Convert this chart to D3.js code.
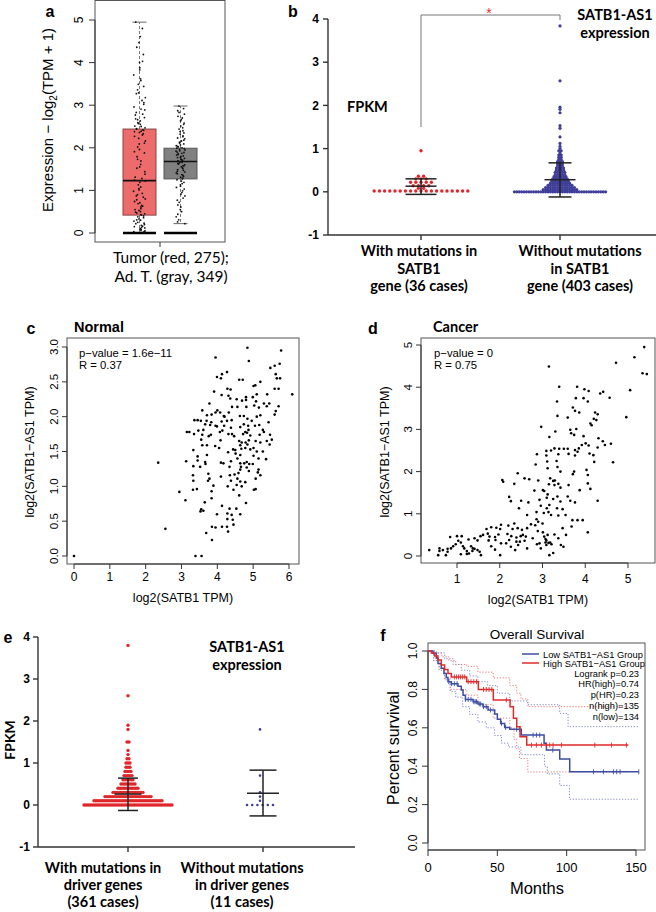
<html>
<head>
<script src="https://d3js.org/d3.v7.min.js"></script>
<style>
  body { margin: 0; background: #fff; }
</style>
</head>
<body>
<svg id="fig" width="656" height="912"></svg>
<script>
// ---------- data: panel a (box plot) ----------
const boxGroups = ["Tumor", "Ad. T."];
const boxQ1 = [0.42, 1.27];
const boxMed = [1.23, 1.68];
const boxQ3 = [2.44, 1.99];
const whiskLo = [0, 0.22];
const whiskHi = [4.95, 2.98];
const tumorVals = [4.95, 4.80, 4.61, 4.47, 4.36, 4.19, 4.03, 4.00, 3.88, 3.83, 3.71, 3.62, 3.58, 3.49, 3.44, 3.36, 3.29, 3.27, 3.18, 3.11,
  3.06, 3.02, 2.96, 2.91, 2.89, 2.83, 2.79, 2.77, 2.71, 2.68, 2.66, 2.63, 2.59, 2.57, 2.55, 2.51, 2.50, 2.47, 2.45, 2.44,
  2.42, 2.41, 2.39, 2.38, 2.36, 2.33, 2.30, 2.27, 2.22, 2.16, 2.11, 2.09, 2.02, 1.96, 1.91, 1.88, 1.79, 1.73, 1.69, 1.61,
  1.55, 1.52, 1.44, 1.38, 1.31, 1.28, 1.24, 1.22, 1.19, 1.13, 1.08, 1.04, 1.01, 0.98, 0.93, 0.90, 0.87, 0.84, 0.80, 0.78,
  0.74, 0.71, 0.69, 0.65, 0.63, 0.61, 0.57, 0.55, 0.53, 0.50, 0.49, 0.47, 0.45, 0.43, 0.42, 0.40, 0.38, 0.36, 0.33, 0.31,
  0.30, 0.28, 0.25, 0.23, 0.22, 0.20, 0.18, 0.16, 0.15, 0.13, 0.12, 0.10, 0.09, 0.08, 0.06, 0.05, 0.04, 0.03, 0.02, 0.01];
const adjVals = [2.98, 2.92, 2.87, 2.83, 2.79, 2.74, 2.70, 2.66, 2.63, 2.58, 2.55, 2.51, 2.47, 2.44, 2.40, 2.38, 2.35, 2.32, 2.28, 2.26,
  2.23, 2.21, 2.18, 2.16, 2.13, 2.11, 2.09, 2.07, 2.05, 2.03, 2.02, 2.00, 1.99, 1.98, 1.96, 1.95, 1.93, 1.92, 1.90, 1.89,
  1.87, 1.86, 1.84, 1.83, 1.81, 1.80, 1.78, 1.77, 1.75, 1.74, 1.72, 1.71, 1.69, 1.68, 1.66, 1.65, 1.63, 1.62, 1.60, 1.58,
  1.57, 1.55, 1.53, 1.51, 1.49, 1.47, 1.45, 1.43, 1.41, 1.39, 1.37, 1.35, 1.33, 1.31, 1.29, 1.27, 1.25, 1.22, 1.19, 1.16,
  1.13, 1.10, 1.07, 1.03, 0.99, 0.95, 0.91, 0.87, 0.82, 0.77, 0.72, 0.66, 0.61, 0.55, 0.50, 0.44, 0.38, 0.31, 0.26, 0.22];

// ---------- data: panel b (dot plot, SATB1 mutation) ----------
const bGroups = ["with", "without"];
const bRedLevels = [0.02, 0.08, 0.14, 0.22, 0.30, 0.36, 0.95];
const bRedCounts = [19, 2, 4, 5, 3, 2, 1];
const bBlueLevels = [0, 0.05, 0.10, 0.15, 0.20, 0.25, 0.30, 0.35, 0.40, 0.45, 0.50, 0.55, 0.60, 0.65, 0.70, 0.75, 0.80, 0.85, 0.90, 0.95,
  1.00, 1.05, 1.12, 1.27, 1.47, 1.53, 1.83, 1.91, 1.96, 2.57, 3.84];
const bBlueCounts = [39, 15, 13, 11, 9, 8, 7, 6, 5, 5, 4, 4, 3, 3, 3, 2, 2, 2, 1, 2, 1, 1, 1, 1, 1, 1, 1, 1, 1, 1, 1];
const bMean = [0.13, 0.28];
const bSdLo = [-0.06, -0.12];
const bSdHi = [0.30, 0.67];

// ---------- data: panel c (Normal scatter) ----------
const normalPts = [[0,0],[2.35,1.34],[2.55,0.39],[4.84,2.99],[5.78,2.95],[3.95,2.85],[4.88,2.80],[5.74,2.76],[5.60,2.73],[5.48,2.70],
  [4.27,2.64],[4.13,2.61],[3.99,2.57],[4.10,2.55],[4.61,2.53],[4.71,2.53],[5.63,2.61],[5.66,2.55],[5.75,2.55],[5.06,2.45],
  [5.01,2.44],[5.20,2.50],[5.71,2.40],[5.60,2.40],[4.28,2.40],[4.37,2.39],[3.91,2.36],[6.09,2.32],[5.39,2.32],[5.10,2.32],
  [4.12,2.31],[4.31,2.30],[4.36,2.26],[4.80,2.28],[4.99,2.28],[4.54,2.25],[4.80,2.24],[4.69,2.23],[5.08,2.22],[5.30,2.19],
  [5.45,2.19],[3.78,2.19],[5.71,2.15],[5.38,2.15],[4.41,2.14],[4.56,2.14],[4.81,2.14],[5.03,2.16],[5.16,2.13],[3.58,2.09],
  [4.00,2.09],[3.95,2.06],[4.08,2.06],[4.32,2.06],[3.84,2.03],[3.71,2.02],[4.18,2.01],[4.20,2.00],[4.63,2.01],[4.74,2.01],
  [5.10,2.00],[5.20,2.02],[5.60,2.03],[5.63,2.08],[3.36,1.95],[3.45,1.95],[3.54,1.94],[3.70,1.94],[3.83,1.92],[4.12,1.93],
  [4.27,1.94],[4.40,1.95],[4.84,1.97],[4.96,1.94],[5.43,1.92],[3.66,1.89],[3.80,1.88],[3.95,1.87],[3.99,1.86],[4.19,1.87],
  [4.38,1.84],[4.64,1.85],[4.74,1.89],[4.86,1.87],[5.05,1.87],[5.17,1.88],[3.15,1.78],[3.22,1.78],[3.47,1.80],[3.61,1.81],
  [4.07,1.78],[4.14,1.80],[4.31,1.75],[4.41,1.75],[4.78,1.78],[4.87,1.81],[4.83,1.77],[5.27,1.81],[5.30,1.78],[3.35,1.75],
  [3.58,1.74],[3.82,1.74],[3.76,1.72],[4.47,1.72],[4.72,1.75],[4.92,1.73],[5.18,1.74],[5.47,1.74],[3.55,1.67],[4.09,1.66],
  [4.61,1.65],[4.68,1.63],[4.79,1.63],[4.88,1.66],[5.07,1.65],[5.20,1.63],[5.38,1.65],[5.52,1.67],[3.58,1.59],[3.71,1.59],
  [3.94,1.58],[4.64,1.59],[4.84,1.60],[5.01,1.55],[5.46,1.60],[3.33,1.52],[4.05,1.55],[4.44,1.53],[4.30,1.49],[4.50,1.52],
  [4.67,1.54],[4.78,1.55],[4.92,1.53],[5.10,1.50],[5.27,1.50],[3.45,1.43],[3.71,1.45],[4.51,1.47],[4.64,1.45],[5.01,1.44],
  [4.56,1.40],[4.38,1.36],[4.82,1.35],[5.15,1.40],[5.36,1.39],[3.13,1.36],[3.45,1.37],[3.66,1.35],[4.10,1.34],[4.17,1.33],
  [4.64,1.33],[4.75,1.33],[4.89,1.32],[4.99,1.32],[3.33,1.29],[3.52,1.28],[3.67,1.32],[4.34,1.28],[4.66,1.28],[4.82,1.27],
  [4.64,1.24],[4.88,1.22],[5.15,1.24],[3.32,1.16],[3.75,1.18],[4.10,1.14],[4.35,1.16],[4.48,1.17],[4.59,1.19],[5.13,1.20],
  [5.20,1.16],[5.07,1.11],[3.33,1.08],[3.74,1.08],[3.78,1.11],[4.38,1.08],[4.56,1.11],[4.64,1.07],[4.78,1.06],[4.54,1.02],
  [3.89,1.01],[4.29,1.00],[4.68,1.00],[3.32,0.95],[3.43,0.96],[4.45,0.95],[5.02,0.95],[5.07,0.96],[2.94,0.92],[3.84,0.93],
  [4.61,0.87],[3.11,0.80],[3.65,0.77],[3.84,0.83],[4.80,0.76],[4.13,0.72],[4.34,0.68],[4.53,0.68],[3.55,0.67],[3.53,0.64],
  [3.61,0.65],[3.99,0.60],[4.28,0.61],[4.40,0.59],[4.64,0.60],[4.28,0.53],[4.43,0.52],[3.85,0.42],[3.95,0.41],[4.13,0.42],
  [4.27,0.42],[4.45,0.45],[4.30,0.35],[3.69,0.33],[3.85,0.23],[3.39,0.00],[3.56,0.00]];

// ---------- data: panel d (Cancer scatter) ----------
const cancerPts = [[5.38,4.95],[5.15,4.71],[4.72,4.58],[3.15,4.49],[5.34,4.33],[5.44,4.31],[5.05,3.93],[3.39,4.01],[3.81,4.01],[3.98,3.95],
  [4.08,3.91],[4.42,3.89],[4.35,3.85],[4.57,3.75],[3.78,3.74],[3.96,3.74],[3.34,3.66],[4.06,3.66],[3.71,3.52],[3.76,3.44],
  [3.86,3.40],[4.23,3.40],[4.29,3.36],[4.96,3.29],[3.35,3.32],[3.59,3.28],[4.20,3.25],[4.26,3.22],[4.15,3.10],[4.12,3.14],
  [2.97,3.06],[3.65,2.99],[3.79,3.01],[3.30,2.95],[3.67,2.91],[3.74,2.87],[3.16,2.82],[3.96,2.84],[4.31,2.79],[4.41,2.72],
  [4.60,2.66],[4.01,2.67],[3.92,2.63],[4.08,2.62],[4.29,2.57],[4.46,2.63],[3.28,2.55],[3.39,2.54],[3.50,2.54],[3.59,2.54],
  [3.85,2.55],[3.76,2.51],[3.09,2.49],[3.20,2.50],[2.87,2.41],[3.37,2.41],[3.61,2.42],[4.10,2.43],[3.09,2.38],[3.76,2.38],
  [3.82,2.47],[4.19,2.39],[4.21,2.23],[4.65,2.22],[3.11,2.24],[3.33,2.25],[2.84,2.17],[3.35,2.11],[3.12,2.08],[3.42,2.00],
  [3.74,2.00],[4.03,2.04],[3.71,1.94],[4.06,1.92],[2.42,1.96],[2.06,1.80],[2.08,1.76],[2.58,1.84],[2.69,1.82],[2.90,1.79],
  [2.34,1.71],[3.18,1.84],[3.25,1.78],[3.29,1.79],[3.15,1.70],[3.28,1.68],[3.37,1.71],[3.61,1.68],[4.06,1.72],[4.12,1.59],
  [2.81,1.55],[3.01,1.56],[3.04,1.54],[3.42,1.62],[3.87,1.56],[2.22,1.40],[3.12,1.46],[3.35,1.41],[3.59,1.41],[2.93,1.33],
  [3.10,1.38],[3.25,1.35],[3.42,1.29],[3.65,1.31],[3.76,1.27],[2.26,1.30],[2.50,1.31],[2.67,1.27],[4.29,1.31],[3.16,1.21],
  [2.96,1.19],[2.45,1.13],[3.10,1.13],[3.34,1.13],[3.47,1.11],[2.86,1.04],[3.03,1.02],[3.14,1.04],[3.20,0.97],[3.37,0.96],
  [3.54,0.97],[2.64,0.97],[3.70,0.85],[3.82,0.85],[3.94,0.85],[2.86,0.87],[2.90,0.81],[2.83,0.73],[3.00,0.77],[2.73,0.75],
  [2.34,0.77],[2.20,0.72],[2.03,0.74],[1.92,0.67],[1.80,0.68],[1.69,0.64],[2.01,0.64],[2.30,0.64],[2.42,0.66],[2.52,0.62],
  [2.64,0.66],[1.72,0.53],[1.61,0.50],[1.76,0.46],[1.97,0.51],[2.18,0.52],[2.27,0.47],[2.39,0.44],[2.49,0.47],[2.54,0.50],
  [2.61,0.46],[2.47,0.34],[2.22,0.38],[2.39,0.34],[2.58,0.36],[1.41,0.42],[1.55,0.47],[1.89,0.45],[1.27,0.39],[1.48,0.37],
  [1.74,0.37],[1.90,0.38],[2.03,0.30],[2.15,0.30],[2.26,0.22],[2.43,0.26],[2.77,0.42],[2.93,0.30],[3.04,0.46],[3.07,0.40],
  [3.09,0.37],[3.07,0.32],[3.14,0.31],[3.09,0.26],[3.18,0.32],[3.21,0.28],[3.37,0.42],[3.43,0.26],[3.49,0.22],[3.55,0.50],
  [4.06,0.56],[3.47,0.66],[3.68,0.70],[2.89,0.59],[3.01,0.56],[3.12,0.50],[3.28,0.51],[1.00,0.47],[1.11,0.47],[0.84,0.45],
  [1.03,0.36],[1.09,0.32],[0.97,0.28],[0.91,0.23],[0.86,0.18],[0.78,0.17],[0.78,0.10],[0.59,0.18],[0.59,0.12],[0.67,0.14],
  [0.56,0.02],[0.35,0.14],[1.14,0.23],[1.17,0.18],[1.23,0.12],[1.28,0.06],[1.36,0.12],[1.41,0.17],[1.48,0.14],[1.53,0.10],
  [1.56,0.02],[1.33,0.23],[1.37,0.18],[1.80,0.23],[1.89,0.15],[2.01,0.02],[2.36,0.14],[2.64,0.18],[2.87,0.28],[2.96,0.18],
  [3.16,0.02],[3.25,0.07],[1.09,0.04],[1.23,0.05],[0.74,0.02]];

// ---------- data: panel e (dot plot, driver genes) ----------
const eGroups = ["with", "without"];
const eRedLevels = [0, 0.1, 0.2, 0.3, 0.4, 0.5, 0.6, 0.7, 0.8, 0.9, 1.0, 1.1, 1.2, 1.3, 1.5, 1.8, 1.9, 2.6, 3.8];
const eRedCounts = [45, 35, 24, 16, 11, 8, 6, 5, 4, 3, 3, 2, 1, 1, 2, 1, 1, 1, 1];
const eBlueLevels = [0, 0.1, 0.2, 0.3, 0.7, 1.8];
const eBlueCounts = [6, 1, 1, 1, 1, 1];
const eMean = [0.26, 0.28];
const eSdLo = [-0.13, -0.26];
const eSdHi = [0.64, 0.83];

// ---------- data: panel f (Kaplan-Meier) ----------
const lowTimes = [0, 3.6, 6.0, 7.2, 9.6, 11.5, 13.2, 14.4, 16.8, 21.6, 24.0, 25.3, 27.0, 32.5, 36.0, 39.7, 43.3, 48.1, 50.0, 52.4, 55.3, 59.0, 67.3, 83.7, 85.4, 95.0, 102.2, 152];
const lowSurv = [1.0, 0.988, 0.962, 0.935, 0.91, 0.883, 0.862, 0.84, 0.83, 0.817, 0.797, 0.77, 0.748, 0.736, 0.724, 0.71, 0.693, 0.672, 0.644, 0.623, 0.602, 0.592, 0.562, 0.519, 0.484, 0.437, 0.371, 0.371];
const highTimes = [0, 2.4, 4.8, 7.2, 9.6, 12.0, 14.4, 16.8, 27.9, 36.3, 47.1, 59.2, 61.6, 64.0, 66.4, 71.2, 144.5];
const highSurv = [1.0, 0.99, 0.974, 0.953, 0.927, 0.904, 0.883, 0.865, 0.84, 0.80, 0.745, 0.71, 0.65, 0.606, 0.554, 0.51, 0.51];
const lowCensor = [15, 17, 19, 21, 27, 29, 31, 33, 34, 35, 37, 38, 40, 42, 45, 53, 56, 64, 66, 75.8, 78.2, 80.6, 90, 119.3, 126.5, 133.7, 136.1, 138.5, 152];
const highCensor = [19, 20.5, 22, 23.5, 25, 26.5, 29, 31, 33, 35, 40, 42, 44, 46, 56.5, 74.6, 78.2, 81.8, 85.4, 87.8, 90.2, 96.2, 120.3, 132.3, 143.1];
const highUpT = [0, 5, 10, 15, 20, 28, 36, 47, 59, 64, 67, 72, 144.5];
const highUpS = [1.0, 0.99, 0.97, 0.95, 0.93, 0.92, 0.89, 0.86, 0.82, 0.78, 0.75, 0.71, 0.71];
const highLoT = [0, 4, 8, 12, 16, 28, 36, 47, 59, 62, 64, 66, 72, 144.5];
const highLoS = [1.0, 0.95, 0.91, 0.86, 0.80, 0.77, 0.72, 0.65, 0.60, 0.54, 0.49, 0.44, 0.37, 0.37];
const lowUpT = [0, 6, 12, 18, 24, 30, 36, 43, 50, 59, 72, 95, 101, 152];
const lowUpS = [1.0, 0.99, 0.96, 0.93, 0.90, 0.87, 0.84, 0.82, 0.78, 0.74, 0.72, 0.675, 0.606, 0.606];
const lowLoT = [0, 4, 8, 12, 16, 20, 25, 30, 36, 42, 48, 53, 58, 67, 84, 86, 95, 102, 152];
const lowLoS = [1.0, 0.95, 0.90, 0.85, 0.79, 0.76, 0.71, 0.67, 0.63, 0.60, 0.56, 0.52, 0.50, 0.46, 0.40, 0.36, 0.30, 0.228, 0.228];
const kmStats = ["Logrank p=0.23", "HR(high)=0.74", "p(HR)=0.23", "n(high)=135", "n(low)=134"];

// ---------- helpers ----------
const svg = d3.select("#fig");
const SANS = "'Liberation Sans', Arial, sans-serif";
const CAL = "Lato, 'Open Sans', sans-serif";

function label(x, y, s, size, o = {}) {
  const t = svg.append("text")
    .attr("x", x).attr("y", y)
    .attr("font-family", o.family || SANS)
    .attr("font-size", size)
    .attr("font-weight", o.bold ? "bold" : "normal")
    .attr("text-anchor", o.anchor || "start")
    .attr("fill", o.fill || "#000")
    .text(s);
  if (o.rotate) t.attr("transform", `rotate(-90,${x},${y})`).attr("dy", "0.35em");
  return t;
}

// R-style left ticks with rotated labels
function rLeft(scale, vals, x0, len, labX, size, fmt) {
  const g = svg.append("g");
  g.append("line").attr("x1", x0).attr("x2", x0)
    .attr("y1", scale(vals[0])).attr("y2", scale(vals[vals.length - 1])).attr("stroke", "#333");
  g.selectAll("line.t").data(vals).join("line").attr("class", "t")
    .attr("x1", x0 - len).attr("x2", x0).attr("y1", d => scale(d)).attr("y2", d => scale(d)).attr("stroke", "#333");
  g.selectAll("text").data(vals).join("text")
    .attr("transform", d => `translate(${labX},${scale(d)}) rotate(-90)`)
    .attr("dy", "0.35em").attr("text-anchor", "middle")
    .attr("font-family", SANS).attr("font-size", size).text(fmt);
}

function rBottom(scale, vals, y0, len, labY, size, fmt) {
  const g = svg.append("g");
  g.append("line").attr("y1", y0).attr("y2", y0)
    .attr("x1", scale(vals[0])).attr("x2", scale(vals[vals.length - 1])).attr("stroke", "#333");
  g.selectAll("line.t").data(vals).join("line").attr("class", "t")
    .attr("y1", y0).attr("y2", y0 + len).attr("x1", d => scale(d)).attr("x2", d => scale(d)).attr("stroke", "#333");
  g.selectAll("text").data(vals).join("text")
    .attr("x", d => scale(d)).attr("y", labY).attr("text-anchor", "middle")
    .attr("font-family", SANS).attr("font-size", size).text(fmt);
}

function frame(x0, y0, x1, y1) {
  svg.append("rect").attr("x", x0).attr("y", y0).attr("width", x1 - x0).attr("height", y1 - y0)
    .attr("fill", "none").attr("stroke", "#555");
}

// rows of dots, centred on cx
function swarm(levels, counts, cx, step) {
  const pts = [];
  levels.forEach((v, i) => {
    const n = counts[i];
    for (let j = 0; j < n; j++) pts.push({ v, dx: (j - (n - 1) / 2) * step });
  });
  return pts;
}

function errBar(g, cx, y, mean, lo, hi, meanW, capW) {
  g.append("line").attr("x1", cx).attr("x2", cx).attr("y1", y(lo)).attr("y2", y(hi));
  g.append("line").attr("x1", cx - meanW / 2).attr("x2", cx + meanW / 2).attr("y1", y(mean)).attr("y2", y(mean));
  [lo, hi].forEach(v => g.append("line").attr("x1", cx - capW / 2).attr("x2", cx + capW / 2).attr("y1", y(v)).attr("y2", y(v)));
}

// ======================= panel a =======================
{
  const y = d3.scaleLinear().domain([0, 5]).range([233, 20]);
  const x = d3.scalePoint().domain(boxGroups).range([139.5, 180.5]);
  const bw = 33;
  const fills = ["#ee6b6b", "#808080"];
  const strokes = ["#8a4444", "#555"];
  frame(95, 0.5, 225, 242);
  rLeft(y, [0, 1, 2, 3, 4, 5], 95, 6, 79, 12, d => d);
  svg.append("line").attr("x1", 160).attr("x2", 160).attr("y1", 242).attr("y2", 247).attr("stroke", "#333");

  boxGroups.forEach((gname, i) => {
    const cx = x(gname);
    const g = svg.append("g");
    g.append("line").attr("x1", cx).attr("x2", cx).attr("y1", y(boxQ3[i])).attr("y2", y(whiskHi[i]))
      .attr("stroke", "#777").attr("stroke-dasharray", "3,2");
    g.append("line").attr("x1", cx).attr("x2", cx).attr("y1", y(boxQ1[i])).attr("y2", y(whiskLo[i]))
      .attr("stroke", "#777").attr("stroke-dasharray", "3,2");
    [whiskHi[i], whiskLo[i]].forEach(v => g.append("line")
      .attr("x1", cx - 7).attr("x2", cx + 7).attr("y1", y(v)).attr("y2", y(v)).attr("stroke", "#666"));
    g.append("rect").attr("x", cx - bw / 2).attr("width", bw)
      .attr("y", y(boxQ3[i])).attr("height", y(boxQ1[i]) - y(boxQ3[i]))
      .attr("fill", fills[i]).attr("stroke", strokes[i]);
    g.append("line").attr("x1", cx - bw / 2).attr("x2", cx + bw / 2)
      .attr("y1", y(boxMed[i])).attr("y2", y(boxMed[i])).attr("stroke", "#111").attr("stroke-width", 1.6);
    g.append("line").attr("x1", cx - bw / 2).attr("x2", cx + bw / 2)
      .attr("y1", y(0)).attr("y2", y(0)).attr("stroke", "#000").attr("stroke-width", 2.6);
  });

  // deterministic horizontal jitter (layout only)
  const jit = i => { const s = Math.sin(i * 12.9898 + 78.233) * 43758.5453; return s - Math.floor(s) - 0.5; };
  [[tumorVals, 12], [adjVals, 9]].forEach(([vals, w], gi) => {
    const cx = x(boxGroups[gi]);
    svg.append("g").selectAll("circle").data(vals).join("circle")
      .attr("cx", (d, i) => cx + jit(i + gi * 500) * w)
      .attr("cy", d => y(d)).attr("r", 0.9).attr("fill", "#111");
  });

  const yt = svg.append("text").attr("transform", "translate(53,120) rotate(-90)")
    .attr("text-anchor", "middle").attr("font-family", SANS).attr("font-size", 15);
  yt.append("tspan").text("Expression \u2212 log");
  yt.append("tspan").attr("font-size", 10).attr("dy", 4).text("2");
  yt.append("tspan").attr("dy", -4).text("(TPM + 1)");

  label(171, 263, "Tumor (red, 275);", 15.5, { family: CAL, anchor: "middle" });
  label(171, 282, "Ad. T. (gray, 349)", 15.5, { family: CAL, anchor: "middle" });
  label(50, 17, "a", 16, { bold: true, anchor: "middle" });
}

// ======================= panel b =======================
{
  const y = d3.scaleLinear().domain([-1, 4]).range([235, 19]);
  const x = d3.scalePoint().domain(bGroups).range([421, 560]);
  const ax = svg.append("g").attr("stroke", "#333").attr("stroke-width", 1.4);
  ax.append("line").attr("x1", 328).attr("x2", 328).attr("y1", y(-1)).attr("y2", y(4));
  ax.append("line").attr("x1", 328).attr("x2", 656).attr("y1", y(-1)).attr("y2", y(-1));
  ax.selectAll("line.t").data(d3.range(-1, 5)).join("line").attr("class", "t")
    .attr("x1", 323).attr("x2", 328).attr("y1", d => y(d)).attr("y2", d => y(d));
  ax.selectAll("line.x").data(bGroups).join("line").attr("class", "x")
    .attr("x1", d => x(d)).attr("x2", d => x(d)).attr("y1", y(-1)).attr("y2", y(-1) + 5);
  svg.append("g").selectAll("text").data(d3.range(-1, 5)).join("text")
    .attr("x", 319).attr("y", d => y(d)).attr("dy", "0.35em").attr("text-anchor", "end")
    .attr("font-family", SANS).attr("font-weight", "bold").attr("font-size", 12).text(d => d);

  const red = swarm(bRedLevels, bRedCounts, x("with"), 5.2);
  svg.append("g").selectAll("circle").data(red).join("circle")
    .attr("cx", d => x("with") + d.dx).attr("cy", d => y(d.v)).attr("r", 1.7).attr("fill", "#e0262a");
  const blue = swarm(bBlueLevels, bBlueCounts, x("without"), 2.4);
  svg.append("g").selectAll("circle").data(blue).join("circle")
    .attr("cx", d => x("without") + d.dx).attr("cy", d => y(d.v)).attr("r", 1.6).attr("fill", "#3f3f9a");

  const eb = svg.append("g").attr("stroke", "#222").attr("stroke-width", 1.5);
  errBar(eb, x("with"), y, bMean[0], bSdLo[0], bSdHi[0], 31, 31);
  errBar(eb, x("without"), y, bMean[1], bSdLo[1], bSdHi[1], 31, 23);

  svg.append("path").attr("d", `M${x("with")},127V15H${x("without")}V20`)
    .attr("fill", "none").attr("stroke", "#777");
  label(489, 18, "*", 14, { anchor: "middle", fill: "#e03030" });

  label(615, 20, "SATB1-AS1", 14.5, { family: CAL, bold: true, anchor: "middle" });
  label(615, 38, "expression", 14.5, { family: CAL, bold: true, anchor: "middle" });
  label(347, 112, "FPKM", 14.5, { family: CAL, bold: true });
  ["With mutations in", "SATB1", "gene (36 cases)"].forEach((s, i) =>
    label(419, 256 + i * 17.5, s, 14.5, { family: CAL, bold: true, anchor: "middle" }));
  ["Without mutations", "in SATB1", "gene (403 cases)"].forEach((s, i) =>
    label(580, 256 + i * 17.5, s, 14.5, { family: CAL, bold: true, anchor: "middle" }));
  label(293, 17, "b", 16, { bold: true, anchor: "middle" });
}

// ======================= panel c =======================
{
  const x = d3.scaleLinear().domain([0, 6]).range([74, 289]);
  const y = d3.scaleLinear().domain([0, 3]).range([556, 347]);
  frame(67, 338, 299, 564);
  rLeft(y, [0, 0.5, 1, 1.5, 2, 2.5, 3], 67, 5, 54, 11.5, d3.format(".1f"));
  rBottom(x, [0, 1, 2, 3, 4, 5, 6], 564, 5, 581, 12, d => d);
  svg.append("g").selectAll("circle").data(normalPts).join("circle")
    .attr("cx", d => x(d[0])).attr("cy", d => y(d[1])).attr("r", 1.3).attr("fill", "#000");
  label(79, 357, "p\u2212value = 1.6e\u221211", 11.3);
  label(79, 369, "R = 0.37", 11.3);
  label(30, 452, "log2(SATB1\u2212AS1 TPM)", 12.5, { rotate: true, anchor: "middle" });
  label(183, 602, "log2(SATB1 TPM)", 12.5, { anchor: "middle" });
  label(31, 334, "c", 16, { bold: true, anchor: "middle" });
  label(74, 332, "Normal", 14.5, { bold: true });
}

// ======================= panel d =======================
{
  const x = d3.scaleLinear().domain([1, 5]).range([457, 628]);
  const y = d3.scaleLinear().domain([0, 5]).range([556, 345]);
  frame(421, 338, 655, 563);
  rLeft(y, [0, 1, 2, 3, 4, 5], 421, 5, 408, 11.5, d => d);
  rBottom(x, [1, 2, 3, 4, 5], 563, 5, 583, 12, d => d);
  svg.append("g").selectAll("circle").data(cancerPts).join("circle")
    .attr("cx", d => x(d[0])).attr("cy", d => y(d[1])).attr("r", 1.3).attr("fill", "#000");
  label(434, 357, "p\u2212value = 0", 11.3);
  label(434, 369, "R = 0.75", 11.3);
  label(385, 452, "log2(SATB1\u2212AS1 TPM)", 12.5, { rotate: true, anchor: "middle" });
  label(538, 604, "log2(SATB1 TPM)", 12.5, { anchor: "middle" });
  label(373, 334, "d", 16, { bold: true, anchor: "middle" });
  label(433, 332, "Cancer", 14.5, { family: CAL, bold: true });
}

// ======================= panel e =======================
{
  const y = d3.scaleLinear().domain([-1, 4]).range([847, 637]);
  const x = d3.scalePoint().domain(eGroups).range([128, 263]);
  const ax = svg.append("g").attr("stroke", "#333").attr("stroke-width", 1.4);
  ax.append("line").attr("x1", 38).attr("x2", 38).attr("y1", y(-1)).attr("y2", y(4));
  ax.append("line").attr("x1", 38).attr("x2", 355).attr("y1", y(-1)).attr("y2", y(-1));
  ax.selectAll("line.t").data(d3.range(-1, 5)).join("line").attr("class", "t")
    .attr("x1", 33).attr("x2", 38).attr("y1", d => y(d)).attr("y2", d => y(d));
  ax.selectAll("line.x").data(eGroups).join("line").attr("class", "x")
    .attr("x1", d => x(d)).attr("x2", d => x(d)).attr("y1", y(-1)).attr("y2", y(-1) + 5);
  svg.append("g").selectAll("text").data(d3.range(-1, 5)).join("text")
    .attr("x", 30).attr("y", d => y(d)).attr("dy", "0.35em").attr("text-anchor", "end")
    .attr("font-family", SANS).attr("font-weight", "bold").attr("font-size", 12).text(d => d);

  const red = swarm(eRedLevels, eRedCounts, x("with"), 2.0);
  svg.append("g").selectAll("circle").data(red).join("circle")
    .attr("cx", d => x("with") + d.dx).attr("cy", d => y(d.v)).attr("r", 1.7).attr("fill", "#e0262a");
  const blue = swarm(eBlueLevels, eBlueCounts, x("without") - 3, 5.2);
  svg.append("g").selectAll("circle").data(blue).join("circle")
    .attr("cx", d => x("without") - 3 + d.dx).attr("cy", d => y(d.v)).attr("r", 1.3).attr("fill", "#3f3f9a");

  const eb = svg.append("g").attr("stroke", "#222").attr("stroke-width", 1.5);
  errBar(eb, x("with"), y, eMean[0], eSdLo[0], eSdHi[0], 27, 20);
  errBar(eb, x("without"), y, eMean[1], eSdLo[1], eSdHi[1], 32, 27);

  label(247, 652, "SATB1-AS1", 14.5, { family: CAL, bold: true, anchor: "middle" });
  label(247, 670, "expression", 14.5, { family: CAL, bold: true, anchor: "middle" });
  label(10, 740, "FPKM", 14, { family: CAL, bold: true, rotate: true, anchor: "middle" });
  ["With mutations in", "driver genes", "(361 cases)"].forEach((s, i) =>
    label(103, 873 + i * 17, s, 14.5, { family: CAL, bold: true, anchor: "middle" }));
  ["Without mutations", "in driver genes", "(11 cases)"].forEach((s, i) =>
    label(242, 873 + i * 17, s, 14.5, { family: CAL, bold: true, anchor: "middle" }));
  label(8, 643, "e", 16, { bold: true, anchor: "middle" });
}

// ======================= panel f =======================
{
  const x = d3.scaleLinear().domain([0, 150]).range([428, 636]);
  const y = d3.scaleLinear().domain([0, 1]).range([843, 651]);
  frame(428, 643, 645, 850);
  rLeft(y, [0, 0.2, 0.4, 0.6, 0.8, 1.0], 428, 6, 413, 12, d3.format(".1f"));
  rBottom(x, [0, 50, 100, 150], 850, 6, 872, 13, d => d);
  const step = d3.line().curve(d3.curveStepAfter).x(d => x(d[0])).y(d => y(d[1]));
  const zip = (t, s) => t.map((v, i) => [v, s[i]]);
  const ci = [[highUpT, highUpS, "#ee8080"], [highLoT, highLoS, "#ee8080"], [lowUpT, lowUpS, "#8a8fc4"], [lowLoT, lowLoS, "#8a8fc4"]];
  ci.forEach(([t, s, c]) => svg.append("path").attr("d", step(zip(t, s)))
    .attr("fill", "none").attr("stroke", c).attr("stroke-dasharray", "1.3,1.6"));
  const curves = [[lowTimes, lowSurv, lowCensor, "#3b4ea3"], [highTimes, highSurv, highCensor, "#e02a2a"]];
  curves.forEach(([t, s, cens, c]) => {
    svg.append("path").attr("d", step(zip(t, s))).attr("fill", "none").attr("stroke", c).attr("stroke-width", 1.5);
    const at = m => s[d3.bisectRight(t, m) - 1];
    svg.append("g").selectAll("line").data(cens).join("line")
      .attr("x1", d => x(d)).attr("x2", d => x(d))
      .attr("y1", d => y(at(d)) - 2.5).attr("y2", d => y(at(d)) + 2.5)
      .attr("stroke", c).attr("stroke-width", 0.9);
  });
  // legend
  [["Low SATB1\u2212AS1 Group", "#3b4ea3"], ["High SATB1\u2212AS1 Group", "#e02a2a"]].forEach(([s, c], i) => {
    svg.append("line").attr("x1", 522).attr("x2", 539).attr("y1", 654 + i * 9).attr("y2", 654 + i * 9)
      .attr("stroke", c).attr("stroke-width", 1.5);
    label(543, 657.5 + i * 9, s, 9.3);
  });
  kmStats.forEach((s, i) => label(639, 676.5 + i * 10.8, s, 9.3, { anchor: "end" }));
  label(537, 639, "Overall Survival", 13.5, { anchor: "middle" });
  label(537, 894, "Months", 16.5, { anchor: "middle" });
  label(393, 748, "Percent survival", 16, { rotate: true, anchor: "middle" });
  label(383, 641, "f", 16, { bold: true, anchor: "middle" });
}
</script>
</body>
</html>
